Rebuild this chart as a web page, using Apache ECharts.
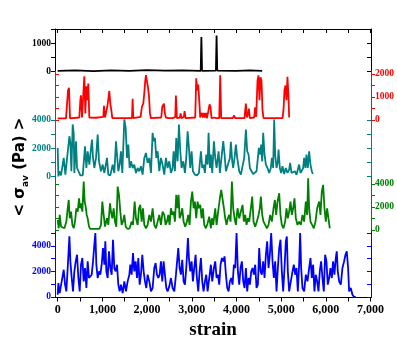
<!DOCTYPE html>
<html>
<head>
<meta charset="utf-8">
<script src="https://cdn.jsdelivr.net/npm/echarts@6.0.0/dist/echarts.min.js"></script>
<style>
html,body{margin:0;padding:0;background:#fff;}
#main{width:397px;height:337px;}
</style>
</head>
<body>
<div id="main"></div>
<script>
// strain vs <sigma_av>, five runs stacked
var xTicks = [0,500,1000,1500,2000,2500,3000,3500,4000,4500,5000,5500,6000,6500,7000];
var xLabels = [0,1000,2000,3000,4000,5000,6000,7000];

var blackData = [[0,20],[400,40],[800,10],[1200,40],[1600,20],[2000,50],[2400,30],[2800,40],[3200,20],[3215,1220],[3230,20],[3540,30],[3555,1270],[3570,30],[4000,20],[4300,40],[4575,20]];

var redData = [[0,60],[186,60],[216,860],[231,1290],[253,1400],[276,60],[484,100],[507,860],[522,1070],[544,100],[574,130],[596,1900],[619,280],[641,1460],[663,860],[685,1580],[708,100],[857,90],[1021,130],[1036,610],[1058,100],[1110,570],[1133,900],[1155,1260],[1177,710],[1200,420],[1222,70],[1662,70],[1677,920],[1691,70],[1855,130],[1885,570],[1915,710],[1937,1150],[1960,1720],[1975,1950],[1997,1900],[2019,1430],[2042,1070],[2064,280],[2086,70],[2317,100],[2340,570],[2362,490],[2377,710],[2399,280],[2422,100],[2459,160],[2481,70],[2571,70],[2631,130],[2645,1060],[2668,70],[2735,100],[2750,280],[2772,70],[2824,130],[2839,380],[2861,70],[3077,100],[3100,1810],[3122,1290],[3144,1540],[3167,860],[3189,100],[3227,300],[3249,100],[3271,300],[3294,100],[3316,300],[3338,70],[3375,420],[3398,670],[3420,570],[3442,70],[3502,100],[3525,160],[3547,70],[3614,70],[3636,1950],[3658,70],[3912,70],[3949,190],[3971,70],[4180,70],[4210,710],[4232,100],[4262,280],[4277,490],[4299,70],[4396,100],[4418,540],[4441,130],[4471,1720],[4493,1940],[4515,860],[4538,1860],[4560,1720],[4582,420],[4605,70],[5030,70],[5052,420],[5074,1290],[5097,1500],[5119,860],[5141,1880],[5164,1000],[5179,100]];

var tealData = [[0,2020],[16,10],[38,370],[75,80],[135,1310],[172,130],[209,130],[262,2840],[284,2370],[306,370],[336,3670],[358,3080],[373,250],[410,2490],[433,600],[463,600],[507,80],[560,80],[612,2130],[642,600],[671,1780],[709,840],[746,2020],[768,2600],[791,1310],[820,600],[858,1310],[895,2960],[925,1070],[969,370],[1007,840],[1044,250],[1103,1310],[1133,130],[1178,80],[1230,840],[1267,250],[1305,2490],[1327,1550],[1357,370],[1386,840],[1416,1780],[1446,250],[1491,4020],[1521,3430],[1551,1310],[1580,2250],[1610,600],[1640,1070],[1677,600],[1714,840],[1752,250],[1789,600],[1826,370],[1863,720],[1900,130],[1938,1310],[1975,1660],[2012,960],[2050,1310],[2087,250],[2124,3080],[2146,2490],[2176,2720],[2206,1310],[2236,1780],[2273,370],[2310,1310],[2347,840],[2385,130],[2422,1310],[2459,600],[2497,1070],[2534,250],[2571,600],[2594,1780],[2623,370],[2653,2720],[2683,1070],[2713,3670],[2743,1780],[2772,600],[2810,1070],[2847,250],[2877,1310],[2907,3190],[2936,2020],[2966,600],[2996,1780],[3026,370],[3070,130],[3115,80],[3160,250],[3205,1780],[3234,600],[3264,840],[3294,250],[3324,1550],[3354,840],[3376,3080],[3406,600],[3428,1550],[3458,250],[3495,2490],[3525,1310],[3555,600],[3600,1780],[3629,250],[3659,370],[3704,2490],[3734,1550],[3764,370],[3808,250],[3853,1310],[3875,2440],[3905,1070],[3927,600],[3957,1310],[3987,2250],[4017,1310],[4062,370],[4099,130],[4136,250],[4173,1310],[4211,3310],[4240,1780],[4270,1550],[4300,600],[4337,370],[4374,180],[4412,130],[4449,370],[4479,1310],[4501,2020],[4531,1550],[4553,2250],[4576,1070],[4598,3080],[4628,1550],[4658,840],[4695,600],[4732,250],[4769,600],[4792,1310],[4821,600],[4844,4020],[4866,1550],[4896,600],[4926,1070],[4941,1900],[4970,600],[5000,250],[5030,720],[5067,180],[5104,600],[5142,250],[5179,480],[5201,960],[5231,250],[5268,180],[5306,370],[5343,130],[5380,250],[5402,840],[5432,250],[5462,250],[5492,600],[5514,1310],[5544,600],[5566,1550],[5596,600],[5626,1780],[5656,840],[5686,370],[5708,180]];

var greenData = [[0,870],[23,150],[45,1310],[75,290],[113,150],[150,150],[194,730],[224,1890],[247,2610],[269,1020],[299,1600],[329,440],[358,150],[388,730],[418,1890],[448,1600],[478,2760],[500,1890],[522,2320],[552,1600],[582,4210],[604,2470],[627,2030],[649,1310],[671,1020],[701,290],[731,90],[783,90],[932,90],[969,440],[999,2470],[1029,1310],[1059,290],[1103,1020],[1133,440],[1171,2320],[1193,1600],[1223,1020],[1252,1890],[1282,730],[1312,290],[1342,3770],[1372,3050],[1401,1600],[1431,440],[1461,730],[1491,1310],[1521,290],[1565,90],[1610,150],[1655,730],[1685,440],[1722,2470],[1752,1020],[1789,440],[1819,1890],[1848,2180],[1878,730],[1908,1890],[1938,440],[1975,150],[2012,440],[2050,1310],[2087,730],[2124,1890],[2161,440],[2199,150],[2236,730],[2273,1310],[2310,440],[2347,1600],[2385,1310],[2415,440],[2445,730],[2474,1310],[2504,440],[2534,1890],[2564,1310],[2594,1600],[2623,730],[2653,3050],[2683,1890],[2705,3050],[2728,1020],[2757,1310],[2787,1890],[2817,730],[2854,290],[2892,730],[2921,1310],[2951,440],[2981,2470],[3011,3340],[3041,1890],[3070,2470],[3100,1020],[3130,2470],[3160,1890],[3190,2180],[3219,1020],[3249,1890],[3279,440],[3316,150],[3354,580],[3391,1160],[3428,150],[3451,1020],[3480,440],[3525,1890],[3555,440],[3600,1890],[3629,2760],[3659,3480],[3689,3630],[3719,1890],[3749,1020],[3778,440],[3808,1020],[3838,1310],[3868,730],[3898,4210],[3927,1890],[3957,1020],[3987,440],[4024,1890],[4062,1020],[4099,1600],[4136,2180],[4166,730],[4196,1310],[4225,440],[4255,1020],[4285,730],[4322,1890],[4352,2900],[4382,730],[4419,290],[4456,730],[4494,1310],[4523,1890],[4546,2900],[4576,1310],[4605,730],[4643,440],[4680,150],[4717,440],[4754,1310],[4792,730],[4829,1890],[4859,2610],[4888,1310],[4918,2470],[4956,3190],[4985,1310],[5015,440],[5052,150],[5090,730],[5119,1890],[5149,1020],[5179,1600],[5209,2470],[5239,1310],[5268,1890],[5298,2760],[5328,1020],[5365,440],[5402,730],[5440,440],[5477,1310],[5514,730],[5552,2470],[5581,1310],[5604,4500],[5626,1890],[5656,730],[5693,440],[5730,150],[5768,730],[5805,1890],[5850,2470],[5879,1310],[5909,3340],[5939,3920],[5969,1890],[5999,730],[6028,1890],[6058,1890],[6088,150]];

var blueData = [[0,180],[16,1090],[45,310],[90,1220],[135,2130],[165,960],[194,440],[224,2260],[262,4730],[284,2780],[314,1480],[343,440],[373,2000],[403,2780],[433,3300],[463,1480],[493,440],[522,2520],[552,3040],[582,1220],[612,2260],[642,700],[671,2780],[701,1480],[731,1480],[761,1740],[791,2780],[820,4080],[843,4990],[865,2520],[895,1480],[925,2000],[954,1740],[984,2520],[1014,3820],[1044,2520],[1066,4340],[1089,2000],[1118,1480],[1148,3560],[1178,2260],[1208,1740],[1238,4470],[1267,2260],[1297,2000],[1327,2520],[1357,960],[1386,440],[1416,960],[1454,310],[1491,1220],[1528,440],[1565,1220],[1603,1740],[1625,2520],[1655,1740],[1685,3430],[1714,2000],[1744,2780],[1774,1480],[1804,3040],[1834,960],[1863,1740],[1893,3300],[1923,2000],[1953,1220],[1983,700],[2012,1740],[2050,1220],[2087,440],[2124,700],[2161,2260],[2191,2650],[2221,1740],[2251,1480],[2281,1740],[2310,2780],[2340,1220],[2370,2780],[2400,1740],[2430,700],[2459,440],[2497,830],[2534,1480],[2571,700],[2609,440],[2646,1740],[2675,2910],[2698,3820],[2728,2260],[2757,1740],[2787,2910],[2817,1220],[2847,960],[2877,2260],[2914,4600],[2936,3040],[2966,2000],[2996,2780],[3026,1220],[3055,2260],[3085,3300],[3115,1480],[3145,440],[3175,2000],[3205,3040],[3234,1220],[3264,440],[3294,1220],[3324,1740],[3354,440],[3391,1480],[3428,2520],[3458,1220],[3495,2260],[3525,2780],[3555,1480],[3585,1740],[3615,960],[3644,2520],[3674,3040],[3704,2780],[3734,3170],[3764,1740],[3793,700],[3823,440],[3853,1220],[3883,1480],[3913,960],[3942,2520],[3972,2260],[4002,4990],[4032,2000],[4062,960],[4091,2260],[4121,2780],[4151,1220],[4181,700],[4211,2260],[4240,440],[4270,1480],[4300,960],[4330,2000],[4360,2260],[4389,1740],[4419,2520],[4449,700],[4479,960],[4509,3820],[4538,2000],[4568,1740],[4598,2780],[4628,1480],[4658,3300],[4687,4340],[4717,2260],[4747,3300],[4777,4990],[4807,2780],[4836,1480],[4866,2780],[4896,440],[4926,2260],[4956,3820],[4985,4470],[5015,2000],[5045,440],[5075,2260],[5104,4340],[5127,4730],[5149,2000],[5179,440],[5216,1220],[5254,2000],[5283,2520],[5313,1740],[5343,2260],[5373,440],[5402,2520],[5425,4990],[5447,2260],[5477,700],[5514,440],[5552,1740],[5589,1220],[5626,2260],[5656,3040],[5686,1480],[5715,2520],[5745,440],[5775,1740],[5805,1220],[5835,440],[5864,2000],[5894,2780],[5924,1480],[5954,440],[5984,3300],[6013,2780],[6043,960],[6073,1480],[6103,2260],[6133,1480],[6162,2780],[6192,1740],[6222,3040],[6244,3560],[6267,2000],[6297,1220],[6334,960],[6371,2260],[6408,2780],[6438,3300],[6468,3560],[6498,2260],[6520,440],[6557,700],[6595,180],[6632,0],[6669,0]];

var panels = [
	{data: blackData, color: '#000000', top: 29, height: 42.5, min: 0, max: 1500, side: 'left', labels: [0,1000], ticks: [0,500,1000,1500]},
	{data: redData, color: '#ff0000', top: 71.5, height: 48.3, min: 0, max: 2110, side: 'right', labels: [0,1000,2000], ticks: [0,500,1000,1500,2000]},
	{data: tealData, color: '#008080', top: 119.8, height: 56.7, min: 0, max: 4000, side: 'left', labels: [0,2000,4000], ticks: [0,1000,2000,3000,4000]},
	{data: greenData, color: '#008000', top: 176.5, height: 53.5, min: 0, max: 4650, side: 'right', labels: [0,2000,4000], ticks: [0,1000,2000,3000,4000]},
	{data: blueData, color: '#0000ff', top: 230, height: 67.5, min: -40, max: 5230, side: 'left', labels: [0,2000,4000], ticks: [0,1000,2000,3000,4000,5000]}
];

var serif = 'Liberation Serif';
var grid = [], xAxis = [], yAxis = [], series = [];

for (var i = 0; i < panels.length; i++) {
	var p = panels[i];
	grid.push({left: 55, right: 26, top: p.top, height: p.height, containLabel: false});
	var xa = {
		type: 'value', gridIndex: i, min: -60, max: 7010,
		splitLine: {show: false},
		axisLine: {show: false},
		axisTick: {show: false},
		axisLabel: {show: false}
	};
	if (i == 0) {
		xa.position = 'top';
		xa.axisLine = {show: true, onZero: false, lineStyle: {color: '#000', width: 1}};
		xa.axisTick = {show: true, inside: true, length: 4, customValues: xTicks, lineStyle: {color: '#000'}};
	}
	if (i == panels.length - 1) {
		xa.position = 'bottom';
		xa.axisLine = {show: true, onZero: false, lineStyle: {color: '#000', width: 1}};
		xa.axisTick = {show: true, inside: false, length: 4, customValues: xTicks, lineStyle: {color: '#000'}};
		xa.axisLabel = {
			show: true, customValues: xLabels, margin: 6,
			fontFamily: serif, fontWeight: 'bold', fontSize: 12, color: '#000',
			formatter: function (v) { return v.toLocaleString('en-US'); }
		};
	}
	xAxis.push(xa);

	var other = p.side == 'left' ? 'right' : 'left';
	// labelled side
	yAxis.push({
		type: 'value', gridIndex: i, position: p.side, min: p.min, max: p.max,
		splitLine: {show: false},
		axisLine: {show: true, onZero: false, lineStyle: {color: p.color, width: 1}},
		axisTick: {show: true, inside: false, length: 4, customValues: p.ticks, lineStyle: {color: p.color}},
		axisLabel: {
			show: true, customValues: p.labels, margin: 4,
			fontFamily: serif, fontWeight: 'bold', fontSize: 9.5, color: p.color,
			formatter: function (v) { return String(v); }
		}
	});
	// mirror side
	yAxis.push({
		type: 'value', gridIndex: i, position: other, min: p.min, max: p.max,
		splitLine: {show: false},
		axisLine: {show: true, onZero: false, lineStyle: {color: p.color, width: 1}},
		axisTick: {show: true, inside: true, length: 4, customValues: p.ticks, lineStyle: {color: p.color}},
		axisLabel: {show: false}
	});

	series.push({
		type: 'line', xAxisIndex: i, yAxisIndex: 2 * i,
		data: p.data, showSymbol: false, symbol: 'none',
		lineStyle: {color: p.color, width: 1.8},
		clip: true
	});
}

var myChart = echarts.init(document.getElementById('main'), null, {renderer: 'canvas'});
myChart.setOption({
	animation: false,
	backgroundColor: '#fff',
	grid: grid,
	xAxis: xAxis,
	yAxis: yAxis,
	series: series,
	graphic: [
		{
			type: 'text', x: 213, y: 330, z: 10,
			style: {text: 'strain', font: 'bold 19px "Liberation Serif"', fill: '#000', align: 'center', verticalAlign: 'middle'}
		},
		{
			type: 'text', x: 20, y: 167, rotation: Math.PI / 2, z: 10,
			style: {
				text: '{a|< σ}{s|av}{a| (Pa) >}', align: 'center', verticalAlign: 'middle', fill: '#000',
				rich: {
					a: {fontFamily: 'DejaVu Sans', fontWeight: 'bold', fontSize: 15, lineHeight: 20, fill: '#000'},
					s: {fontFamily: 'DejaVu Sans', fontWeight: 'bold', fontSize: 9, lineHeight: 20, verticalAlign: 'bottom', fill: '#000'}
				}
			}
		}
	]
});
</script>
</body>
</html>
